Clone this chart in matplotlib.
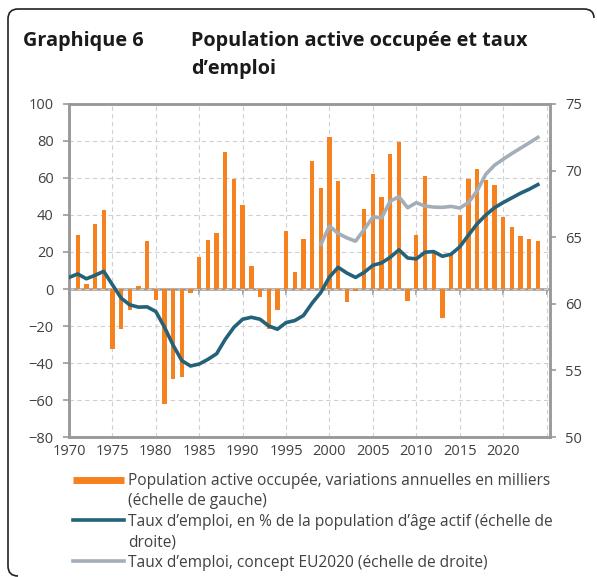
import matplotlib
matplotlib.use("Agg")
import matplotlib.pyplot as plt
import numpy as np
from matplotlib.path import Path
from matplotlib.patches import PathPatch
from matplotlib.lines import Line2D

years = np.arange(1970, 2025)

# population active occupee, variations annuelles (milliers) - echelle de gauche
pop_var = [np.nan, 29, 2.8, 35, 42.5, -32.4, -21.7, -11.4, 1.5, 26,
           -6, -62, -48.5, -47.8, -2.2, 17.5, 26.4, 30, 73.8, 59.3,
           45.2, 12.7, -4.3, -21.7, -11.4, 31.5, 9.2, 26.8, 69.3, 54.6,
           82.1, 58.4, -6.9, -1, 43.1, 62, 49.9, 72.9, 79.6, -6.6,
           29.1, 61, 20, -15.9, 18.5, 40, 59.2, 64.8, 59, 56,
           38.9, 33.5, 28.4, 27.1, 25.7]

# taux d'emploi, % population d'age actif - echelle de droite
taux = [61.98, 62.24, 61.88, 62.14, 62.44, 61.43, 60.43, 59.92, 59.75, 59.77,
        59.42, 58.24, 56.88, 55.73, 55.33, 55.48, 55.83, 56.25, 57.34, 58.24,
        58.84, 58.99, 58.84, 58.34, 58.09, 58.59, 58.74, 59.12, 60.05, 60.85,
        62.01, 62.74, 62.31, 61.98, 62.36, 62.89, 63.07, 63.49, 64.05, 63.44,
        63.37, 63.87, 63.92, 63.57, 63.72, 64.27, 65.15, 66.0, 66.66, 67.21,
        67.6, 67.95, 68.3, 68.6, 68.95]

# taux d'emploi concept EU2020
years_eu = np.arange(1999, 2025)
taux_eu = [64.45, 65.83, 65.28, 64.95, 64.70, 65.58, 66.51, 66.46, 67.71, 68.04,
           67.21, 67.59, 67.34, 67.26, 67.24, 67.31, 67.19, 67.59, 68.47, 69.72,
           70.4, 70.85, 71.28, 71.68, 72.08, 72.49]

tick_years = np.arange(1970, 2030, 5)
tick_labels = [str(y) for y in tick_years[:-1]] + ['']

orange = '#F5821F'
dark = '#24627A'
grey = '#A3AEB9'
spine = '#999999'
txt = '#404040'

plt.rcParams['font.family'] = ['Open Sans', 'DejaVu Sans']

fig = plt.figure(figsize=(5.97, 5.77), dpi=100)
ax = fig.add_axes([0.1156, 0.2426, 0.8057, 0.5772])
ax2 = ax.twinx()

ax.bar(years, pop_var, width=0.5, color=orange, zorder=2)
ax2.plot(years, taux, color=dark, lw=2.6, zorder=3)
ax2.plot(years_eu, taux_eu, color=grey, lw=2.6, zorder=3)

ax.set_xlim(1970, 2025.4)
ax.set_ylim(-80, 100)
ax2.set_ylim(50, 75)
ax.set_yticks(np.arange(-80, 101, 20))
ax2.set_yticks(np.arange(50, 76, 5))
ax.set_xticks(tick_years)
ax.set_xticklabels(tick_labels)

ax.grid(True, color='#d0d0d0', ls=(0, (4, 3)), lw=0.8)
ax.set_axisbelow(True)

for a in (ax, ax2):
    for s in a.spines.values():
        s.set_color(spine)
        s.set_linewidth(1.8)
ax.tick_params(axis='x', length=0, pad=5, labelsize=10.5, labelcolor=txt)
ax.tick_params(axis='y', direction='out', length=4, width=1.2, color=spine,
               labelsize=10.5, labelcolor=txt, pad=7)
ax2.tick_params(axis='y', direction='out', length=4, width=1.2, color=spine,
                labelsize=10.5, labelcolor=txt, pad=7)

# zero line with year ticks
zero = ax.secondary_xaxis(80 / 180)
zero.set_xticks(tick_years)
zero.tick_params(direction='out', length=4, width=1.2, color=spine, labelbottom=False)
zero.spines['bottom'].set_color(spine)
zero.spines['bottom'].set_linewidth(1.8)

# legend
h_bar = Line2D([], [], color=orange, lw=5, solid_capstyle='butt')
h_dark = Line2D([], [], color=dark, lw=2.6)
h_grey = Line2D([], [], color=grey, lw=2.6)
h_none = Line2D([], [], color='none')
labels = ['Population active occupée, variations annuelles en milliers',
          '(échelle de gauche)',
          'Taux d\u2019emploi, en % de la population d\u2019âge actif (échelle de',
          'droite)',
          'Taux d\u2019emploi, concept EU2020 (échelle de droite)']
fig.legend([h_bar, h_none, h_dark, h_none, h_grey], labels,
           loc='upper left', bbox_to_anchor=(0.122, 0.180), frameon=False,
           borderpad=0, borderaxespad=0, handlelength=3.3, handletextpad=0.25,
           labelspacing=0.28, fontsize=11.2, labelcolor=txt)

# titles
fig.text(0.038, 0.929, 'Graphique 6', fontsize=14.3, fontweight='bold',
         color='#1a1a1a', va='center')
fig.text(0.32, 0.929, 'Population active occupée et taux', fontsize=14.3,
         fontweight='bold', color='#1a1a1a', va='center')
fig.text(0.32, 0.880, 'd\u2019emploi', fontsize=14.3, fontweight='bold',
         color='#1a1a1a', va='center')

# frame (open on the right)
W, H = 597.0, 577.0
pts = [(594, 18), (594, 9), (584, 9), (18, 9), (8, 9), (8, 19),
       (8, 566), (8, 576), (18, 576)]
codes = [Path.MOVETO, Path.CURVE3, Path.CURVE3, Path.LINETO, Path.CURVE3,
         Path.CURVE3, Path.LINETO, Path.CURVE3, Path.CURVE3]
verts = [(x / W, 1 - y / H) for x, y in pts]
fig.patches.append(PathPatch(Path(verts, codes), transform=fig.transFigure,
                             fill=False, ec='#222222', lw=1.2))

fig.savefig('out.png', dpi=100)
